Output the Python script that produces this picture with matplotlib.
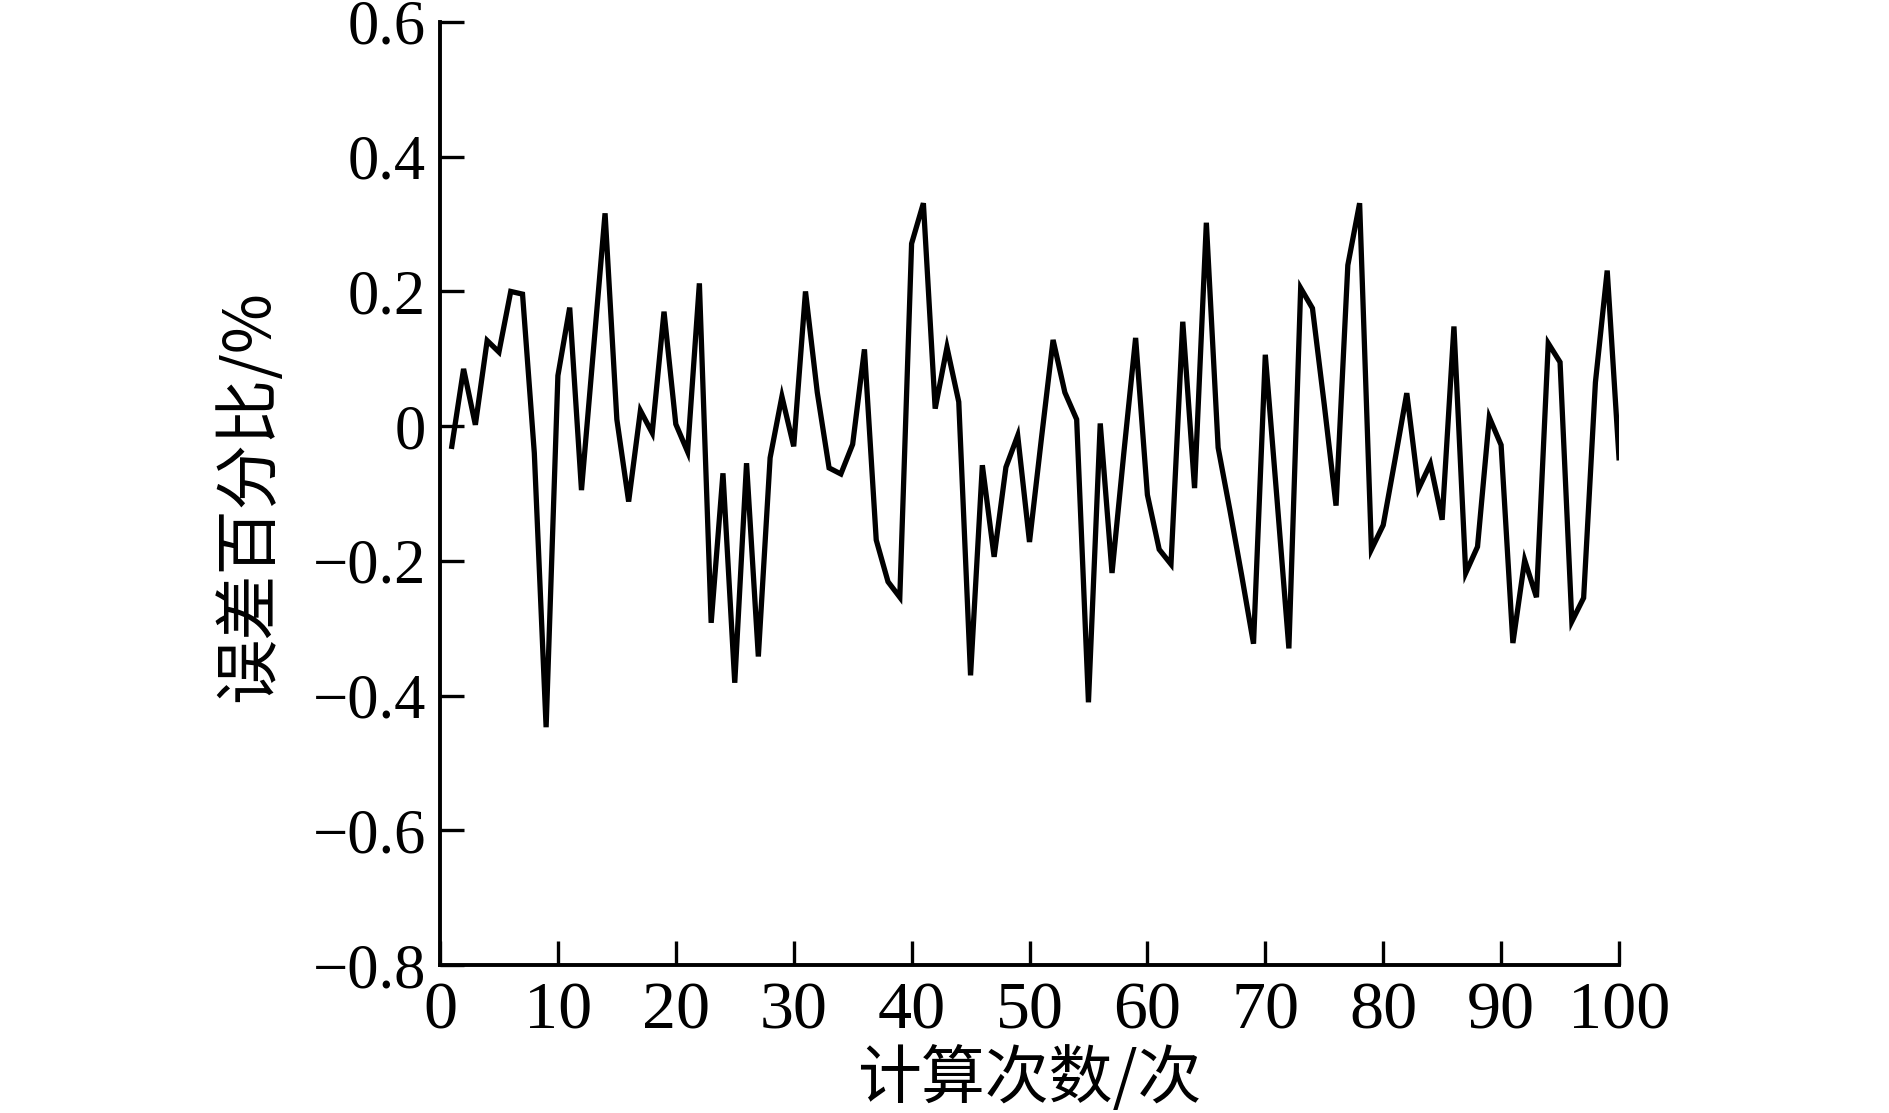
import matplotlib
matplotlib.use("Agg")
import matplotlib.pyplot as plt
import numpy as np

# ---- data ----
runs = list(range(1, 101))
error_pct = [
    -0.030, 0.085, 0.002, 0.127, 0.110, 0.200, 0.196, -0.040, -0.447, 0.075,
    0.176, -0.095, 0.110, 0.316, 0.010, -0.112, 0.023, -0.010, 0.170, 0.003,
    -0.038, 0.212, -0.292, -0.070, -0.381, -0.055, -0.342, -0.047, 0.044, -0.030,
    0.200, 0.050, -0.062, -0.071, -0.027, 0.114, -0.169, -0.231, -0.254, 0.271,
    0.331, 0.026, 0.117, 0.036, -0.370, -0.058, -0.194, -0.061, -0.014, -0.172,
    -0.020, 0.128, 0.050, 0.010, -0.410, 0.004, -0.218, -0.040, 0.131, -0.102,
    -0.183, -0.205, 0.155, -0.092, 0.302, -0.032, -0.125, -0.222, -0.323, 0.106,
    -0.110, -0.330, 0.205, 0.175, 0.032, -0.118, 0.239, 0.331, -0.183, -0.147,
    -0.050, 0.049, -0.093, -0.056, -0.139, 0.148, -0.218, -0.179, 0.013, -0.028,
    -0.322, -0.199, -0.254, 0.123, 0.095, -0.290, -0.255, 0.065, 0.231, -0.047,
]
x_ticks = [0, 10, 20, 30, 40, 50, 60, 70, 80, 90, 100]
y_ticks = [-0.8, -0.6, -0.4, -0.2, 0.0, 0.2, 0.4, 0.6]
y_ticklabels = ["\u22120.8", "\u22120.6", "\u22120.4", "\u22120.2", "0", "0.2", "0.4", "0.6"]
x_label = "计算次数/次"
y_label = "误差百分比/%"

W, H = 1889, 1113
fig = plt.figure(figsize=(W / 100, H / 100), dpi=100)
fig.patch.set_facecolor("white")

left, right = 440 / W, 1619 / W
bottom, top = 1 - 965 / H, 1 - 22 / H
ax = fig.add_axes([left, bottom, right - left, top - bottom])

ax.plot(runs, error_pct, color="black", linewidth=3.8, solid_joinstyle="miter")

ax.set_xlim(0, 100)
ax.set_ylim(-0.8, 0.6)
ax.set_xticks(x_ticks)
ax.set_yticks(y_ticks)
ax.set_yticklabels(y_ticklabels)

for s in ["top", "right"]:
    ax.spines[s].set_visible(False)
for s in ["left", "bottom"]:
    ax.spines[s].set_linewidth(2.8)
    ax.spines[s].set_color("black")

ax.tick_params(axis="both", direction="in", length=17, width=2.4, color="black")
ax.tick_params(axis="y", pad=10)
ax.tick_params(axis="x", pad=12)

for lab in ax.get_yticklabels():
    lab.set_fontfamily("Liberation Serif")
    lab.set_fontsize(45)
for lab in ax.get_xticklabels():
    lab.set_fontfamily("Liberation Serif")
    lab.set_fontsize(49)

cjk = ["Noto Sans CJK SC", "DejaVu Sans"]
fig.text(250 / W, 1 - 496 / H, y_label, rotation=90, ha="center", va="center",
         fontsize=47, family=cjk)
fig.text(1029 / W, 1 - 1080 / H, x_label, ha="center", va="center",
         fontsize=46, family=cjk)

fig.savefig("out.png", dpi=100, facecolor="white")
